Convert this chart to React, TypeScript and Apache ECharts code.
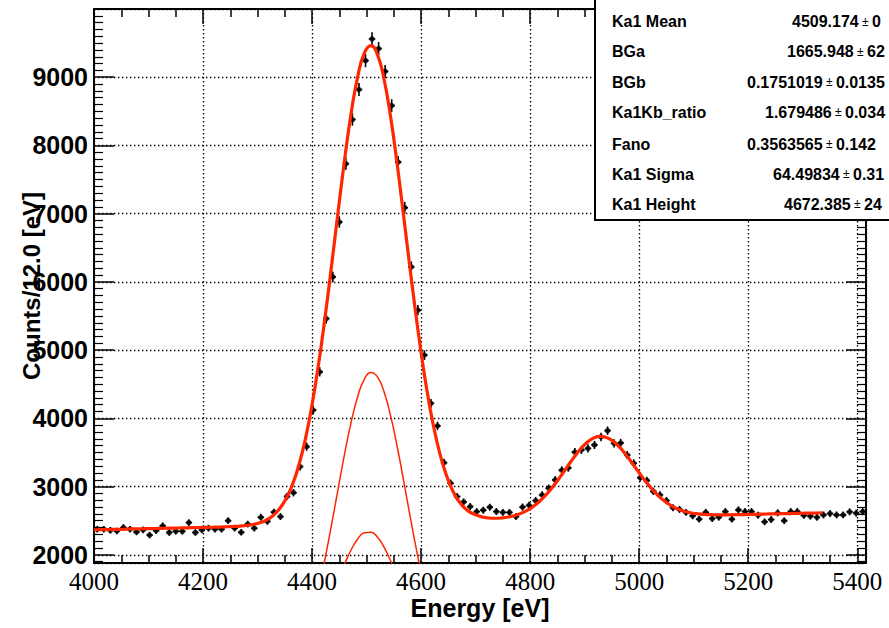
import React, { useEffect, useRef } from "react";
import * as echarts from "echarts";

// Histogram: bin centres start at 4006 eV, 12 eV wide
const BIN_START = 4006;
const BIN_WIDTH = 12;
const counts = [
  2375, 2375, 2360, 2350, 2400, 2375, 2335, 2365, 2290, 2355,
  2425, 2327, 2345, 2345, 2473, 2327, 2365, 2390, 2375, 2375,
  2500, 2390, 2330, 2450, 2390, 2550, 2490, 2625, 2560, 2855,
  2910, 3293, 3585, 4122, 4683, 5463, 6073, 6878, 7732, 8380,
  8820, 9244, 9561, 9420, 9085, 8585, 7756, 7088, 6220, 5585,
  4927, 4220, 3890, 3350, 3049, 2854, 2775, 2707, 2634, 2654,
  2698, 2634, 2622, 2622, 2561, 2700, 2725, 2795, 2878, 2976,
  3098, 3240, 3275, 3505, 3537, 3560, 3610, 3727, 3820, 3634,
  3640, 3463, 3341, 3130, 3090, 2930, 2878, 2795, 2690, 2665,
  2622, 2571, 2522, 2622, 2532, 2551, 2634, 2522, 2658, 2634,
  2634, 2580, 2483, 2517, 2615, 2500, 2634, 2634, 2578, 2566,
  2550, 2585, 2605, 2585, 2585, 2630, 2610, 2634,
];

// Total fit curve, sampled every 12 eV from 4004 eV
const FIT_START = 4004;
const FIT_STEP = 12;
const fitValues = [
  2367, 2369, 2371, 2373, 2375, 2378, 2380, 2382, 2384, 2386, 2388, 2390, 2392, 2394, 2396, 2399, 2401,
  2403, 2405, 2408, 2411, 2415, 2421, 2430, 2445, 2469, 2509, 2572, 2670, 2817, 3028, 3320, 3707, 4200,
  4800, 5494, 6256, 7046, 7811, 8489, 9020, 9356, 9463, 9329, 8970, 8419, 7730, 6962, 6177, 5426, 4747,
  4166, 3692, 3323, 3047, 2849,
  2718, 2634, 2587, 2556, 2540, 2536, 2541, 2554, 2577, 2611, 2659, 2723, 2805, 2905, 3023, 3153,
  3290, 3425, 3547, 3645, 3710, 3736, 3720, 3666, 3577, 3462, 3335, 3202, 3074, 2958, 2858, 2777,
  2714, 2667, 2635, 2613, 2600, 2592, 2588, 2586, 2586, 2587, 2589, 2590, 2592, 2594, 2597, 2599,
  2601, 2603, 2605, 2607, 2609, 2611, 2613, 2615,
];

// Ka1 component
const KA1_START = 4412;
const ka1Values = [1501, 1953, 2454, 2979, 3493, 3956, 4329, 4575, 4672, 4607, 4389, 4039, 3591, 3083, 2557, 2050, 1587];
// Ka2 component
const KA2_START = 4448;
const ka2Values = [1620, 1867, 2078, 2235, 2322, 2329, 2258, 2114, 1912, 1671];

const statNames = ["Ka1 Mean", "BGa", "BGb", "Ka1Kb_ratio", "Fano", "Ka1 Sigma", "Ka1 Height"];
const statValues = ["4509.174", "1665.948", "0.1751019", "1.679486", "0.3563565", "64.49834", "4672.385"];
const statErrors = ["0", "62", "0.0135", "0.034", "0.142", "0.31", "24"];
const statValueX = [792, 787, 747, 765, 747, 773, 784];
const statRowY = [21.5, 51.5, 82, 112, 144, 174, 204];

const X_MIN = 4000;
const X_MAX = 5416;
const Y_MIN = 1880;
const Y_MAX = 10000;

const SANS = "'Liberation Sans', Arial, Helvetica, sans-serif";
const SERIF = "'Liberation Serif', 'Times New Roman', serif";
const RED = "#ff2600";

export default function App() {
  const ref = useRef<HTMLDivElement>(null);

  useEffect(() => {
    if (!ref.current) return;
    const chart = echarts.init(ref.current, undefined, { renderer: "svg" });

    const histData = counts.map((c, i) => [BIN_START + i * BIN_WIDTH, c, Math.sqrt(c)]);
    const fitData = [[X_MIN, fitValues[0] - 1] as number[]].concat(
      fitValues.map((v, i) => [FIT_START + i * FIT_STEP, v])
    );
    const ka1Data = ka1Values.map((v, i) => [KA1_START + i * FIT_STEP, v]);
    const ka2Data = ka2Values.map((v, i) => [KA2_START + i * FIT_STEP, v]);

    const frame = { show: true, onZero: false, lineStyle: { color: "#000", width: 2 } };
    const plain = (v: number) => String(v);
    const dotted = { color: "#000", type: [1.4, 2.6], width: 1.3 };

    const xBase = {
      type: "value" as const,
      min: X_MIN,
      max: X_MAX,
      interval: 200,
      axisLine: frame,
      axisTick: { show: true, inside: true, length: 15, lineStyle: { color: "#000", width: 1.5 } },
      minorTick: { show: true, splitNumber: 4, length: 8, lineStyle: { color: "#000", width: 1.5 } },
    };
    const yBase = {
      type: "value" as const,
      min: Y_MIN,
      max: Y_MAX,
      splitNumber: 8,
      axisLine: frame,
      axisTick: { show: true, inside: true, length: 20, lineStyle: { color: "#000", width: 1.5 } },
      minorTick: { show: true, splitNumber: 10, length: 9, lineStyle: { color: "#000", width: 1.2 } },
    };

    const graphics: any[] = [
      {
        type: "rect",
        z: 100,
        shape: { x: 595, y: -5, width: 310, height: 225 },
        style: { fill: "#fff", stroke: "#000", lineWidth: 2 },
      },
    ];
    statNames.forEach((n, i) => {
      graphics.push({
        type: "text",
        z: 101,
        style: {
          text: n,
          x: 612,
          y: statRowY[i],
          verticalAlign: "middle",
          fill: "#000",
          font: `bold 16px ${SANS}`,
        },
      });
      graphics.push({
        type: "text",
        z: 101,
        style: {
          text: `{v|${statValues[i]}}{p| ± }{v|${statErrors[i]}}`,
          x: statValueX[i],
          y: statRowY[i],
          verticalAlign: "middle",
          fill: "#000",
          rich: {
            v: { fontSize: 16, fontWeight: "bold", fontFamily: SANS, fill: "#000" },
            p: { fontSize: 12, fontFamily: SANS, fill: "#000" },
          },
        },
      });
    });

    chart.setOption({
      animation: false,
      backgroundColor: "#fff",
      grid: {
        left: 94,
        top: 9,
        width: 772,
        height: 554,
        containLabel: false,
        outerBoundsMode: "none",
      },
      xAxis: [
        {
          ...xBase,
          position: "bottom",
          name: "Energy [eV]",
          nameLocation: "middle",
          nameGap: 32,
          nameMoveOverlap: false,
          nameTextStyle: { fontFamily: SANS, fontWeight: "bold", fontSize: 25, color: "#000" },
          axisLabel: {
            fontFamily: SERIF,
            fontSize: 25,
            color: "#000",
            margin: 6,
            showMaxLabel: false,
            formatter: plain,
          },
          splitLine: { show: true, lineStyle: dotted },
        },
        {
          ...xBase,
          position: "top",
          axisLabel: { show: false },
          splitLine: { show: false },
        },
      ],
      yAxis: [
        {
          ...yBase,
          position: "left",
          name: "Counts/12.0 [eV]",
          nameLocation: "middle",
          nameGap: 51,
          nameMoveOverlap: false,
          nameTextStyle: { fontFamily: SANS, fontWeight: "bold", fontSize: 24, color: "#000" },
          axisLabel: {
            fontFamily: SANS,
            fontWeight: "bold",
            fontSize: 25,
            color: "#000",
            margin: 6,
            showMinLabel: false,
            showMaxLabel: false,
            formatter: plain,
          },
          splitLine: { show: true, lineStyle: dotted },
        },
        {
          ...yBase,
          position: "right",
          axisLabel: { show: false },
          splitLine: { show: false },
        },
      ],
      series: [
        {
          type: "custom",
          name: "errors",
          data: histData,
          encode: { x: 0, y: 1 },
          z: 3,
          renderItem: (params: any, api: any) => {
            const x = api.value(0);
            const y = api.value(1);
            const e = api.value(2);
            const top = api.coord([x, y + e]);
            const bot = api.coord([x, y - e]);
            const l = api.coord([x - BIN_WIDTH / 2, y]);
            const r = api.coord([x + BIN_WIDTH / 2, y]);
            return {
              type: "group",
              children: [
                {
                  type: "line",
                  shape: { x1: top[0], y1: top[1], x2: bot[0], y2: bot[1] },
                  style: { stroke: "#000", lineWidth: 1.6 },
                },
                {
                  type: "line",
                  shape: { x1: l[0], y1: l[1], x2: r[0], y2: r[1] },
                  style: { stroke: "#000", lineWidth: 1.6 },
                },
              ],
            };
          },
        },
        {
          type: "scatter",
          name: "data",
          data: histData.map((d) => [d[0], d[1]]),
          symbol: "circle",
          symbolSize: 5.5,
          itemStyle: { color: "#000" },
          z: 3,
        },
        {
          type: "line",
          name: "Ka1",
          data: ka1Data,
          smooth: true,
          showSymbol: false,
          clip: true,
          lineStyle: { color: RED, width: 1.5 },
          z: 4,
        },
        {
          type: "line",
          name: "Ka2",
          data: ka2Data,
          smooth: true,
          showSymbol: false,
          clip: true,
          lineStyle: { color: RED, width: 1.5 },
          z: 4,
        },
        {
          type: "line",
          name: "fit",
          data: fitData,
          smooth: true,
          showSymbol: false,
          clip: true,
          lineStyle: { color: RED, width: 3.2 },
          z: 5,
        },
      ],
      graphic: graphics,
    });

    return () => chart.dispose();
  }, []);

  return (
    <div
      ref={ref}
      style={{ position: "fixed", left: 0, top: 0, width: 889, height: 628, background: "#fff" }}
    />
  );
}
